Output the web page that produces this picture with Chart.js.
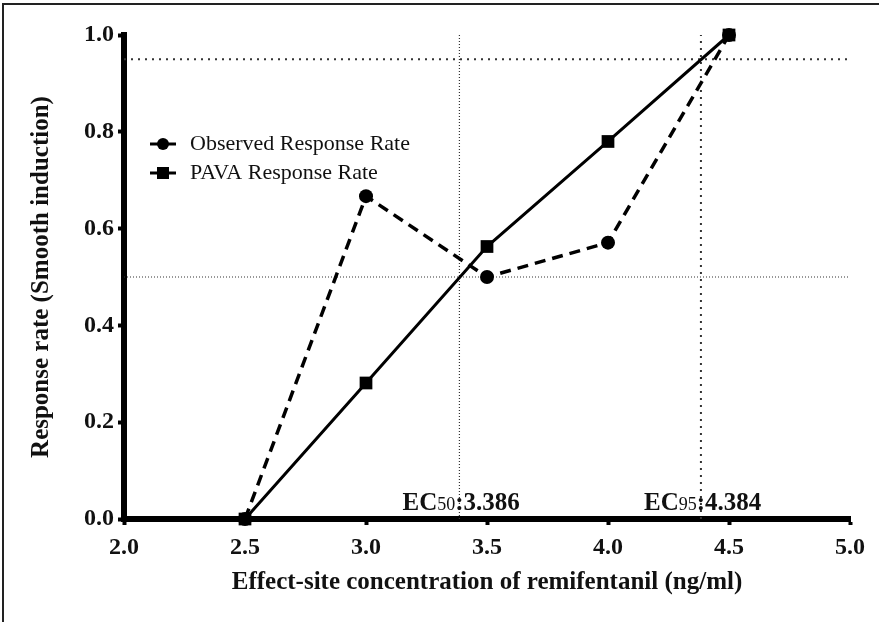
<!DOCTYPE html>
<html>
<head>
<meta charset="utf-8">
<script src="https://cdn.jsdelivr.net/npm/chart.js@4/dist/chart.umd.min.js"></script>
<style>
  html, body { margin: 0; padding: 0; background: #fff; }
  #wrap { position: relative; width: 879px; height: 622px; }
  #frame { position: absolute; left: 2px; top: 3px; right: 0; bottom: 0;
           border-top: 2px solid #222; border-left: 2px solid #222; pointer-events: none; }
</style>
</head>
<body>
<div id="wrap">
  <canvas id="chart" width="879" height="622"></canvas>
  <div id="frame"></div>
</div>
<script>
// --- values ---
const concentrations = [2.5, 3.0, 3.5, 4.0, 4.5];
const observedRate = [0, 0.667, 0.5, 0.571, 1.0];
const pavaRate = [0, 0.281, 0.563, 0.78, 1.0];
const ec50 = 3.386;
const ec95 = 4.384;
const refLevels = [0.5, 0.95];
const xRange = [2.0, 5.0];
const yRange = [0, 1.0];

const serif = "'Liberation Serif', 'Times New Roman', serif";

function pts(xs, ys) {
  return xs.map((x, i) => ({ x: x, y: ys[i] }));
}

// dotted reference lines, still placed through the scales
const dotted = (data, dash, width) => ({
  data: data, borderColor: "#333", borderWidth: width, borderDash: dash,
  pointRadius: 0, fill: false, order: 5
});

const ecLabels = {
  id: "ecLabels",
  afterDatasetsDraw(chart) {
    const ctx = chart.ctx;
    const xs = chart.scales.x;
    const base = chart.chartArea.bottom - 9;
    [[ "50", ec50 ], [ "95", ec95 ]].forEach(([sub, v]) => {
      const px = xs.getPixelForValue(v);
      ctx.save();
      ctx.fillStyle = "#111";
      ctx.textBaseline = "alphabetic";
      ctx.font = "bold 25px " + serif;
      const ecW = ctx.measureText("EC").width;
      ctx.font = "18px " + serif;
      const subW = ctx.measureText(sub).width;
      ctx.font = "bold 25px " + serif;
      const colW = ctx.measureText(":").width;
      const start = px - colW / 2 - subW - ecW;
      ctx.fillText("EC", start, base);
      ctx.font = "18px " + serif;
      ctx.fillText(sub, start + ecW, base);
      ctx.font = "bold 25px " + serif;
      ctx.fillText(":" + v.toFixed(3), start + ecW + subW, base);
      ctx.restore();
    });
  }
};

const legendBox = {
  id: "legendBox",
  afterDatasetsDraw(chart) {
    const ctx = chart.ctx;
    const rows = [
      { text: "Observed Response Rate", style: "circle", y: 144 },
      { text: "PAVA Response Rate", style: "rect", y: 173 }
    ];
    rows.forEach(r => {
      ctx.save();
      ctx.strokeStyle = "#000";
      ctx.fillStyle = "#000";
      ctx.lineWidth = 3;
      ctx.beginPath();
      ctx.moveTo(150, r.y);
      ctx.lineTo(176, r.y);
      ctx.stroke();
      ctx.beginPath();
      if (r.style === "circle") {
        ctx.arc(163, r.y, 6, 0, Math.PI * 2);
      } else {
        ctx.rect(157, r.y - 6, 12, 12);
      }
      ctx.fill();
      ctx.font = "22px " + serif;
      ctx.textBaseline = "middle";
      ctx.fillStyle = "#111";
      ctx.fillText(r.text, 190, r.y);
      ctx.restore();
    });
  }
};

new Chart(document.getElementById("chart"), {
  type: "line",
  data: {
    datasets: [
      {
        label: "Observed Response Rate",
        data: pts(concentrations, observedRate),
        borderColor: "#000", backgroundColor: "#000",
        borderWidth: 3.5, borderDash: [11, 7],
        pointStyle: "circle", pointRadius: 7, pointBorderWidth: 0,
        clip: false, order: 1
      },
      {
        label: "PAVA Response Rate",
        data: pts(concentrations, pavaRate),
        borderColor: "#000", backgroundColor: "#000",
        borderWidth: 3,
        pointStyle: "rect", pointRadius: 9, pointBorderWidth: 0,
        clip: false, order: 0
      },
      dotted([{ x: ec50, y: yRange[0] }, { x: ec50, y: yRange[1] }], [1, 2], 1.2),
      dotted([{ x: ec95, y: yRange[0] }, { x: ec95, y: yRange[1] }], [2, 5], 2),
      dotted([{ x: xRange[0], y: refLevels[0] }, { x: xRange[1], y: refLevels[0] }], [1, 2], 1.2),
      dotted([{ x: xRange[0], y: refLevels[1] }, { x: xRange[1], y: refLevels[1] }], [2, 5], 2)
    ]
  },
  options: {
    responsive: false,
    animation: false,
    layout: { padding: { top: 35, right: 29, left: 0, bottom: 0 } },
    plugins: { legend: { display: false }, tooltip: { enabled: false } },
    scales: {
      x: {
        type: "linear",
        min: xRange[0], max: xRange[1],
        afterFit(s) { s.height = 103; },
        ticks: {
          stepSize: 0.5, color: "#111", padding: 8,
          font: { family: serif, size: 24, weight: "bold" },
          callback: v => v.toFixed(1)
        },
        grid: { drawOnChartArea: false, drawTicks: true, tickLength: 6, tickWidth: 4, tickColor: "#000" },
        border: { display: true, color: "#000", width: 6 },
        title: {
          display: true, text: "Effect-site concentration of remifentanil (ng/ml)",
          color: "#111", font: { family: serif, size: 25, weight: "bold" },
          padding: { top: 4, bottom: 24 }
        }
      },
      y: {
        type: "linear",
        min: yRange[0], max: yRange[1],
        afterFit(s) { s.width = 124; },
        ticks: {
          stepSize: 0.2, color: "#111", padding: 4,
          font: { family: serif, size: 24, weight: "bold" },
          callback: v => v.toFixed(1)
        },
        grid: { drawOnChartArea: false, drawTicks: true, tickLength: 6, tickWidth: 4, tickColor: "#000" },
        border: { display: true, color: "#000", width: 6 },
        title: {
          display: true, text: "Response rate (Smooth induction)",
          color: "#111", font: { family: serif, size: 25, weight: "bold" },
          padding: { top: 27, bottom: 0 }
        }
      }
    }
  },
  plugins: [ecLabels, legendBox]
});
</script>
</body>
</html>
